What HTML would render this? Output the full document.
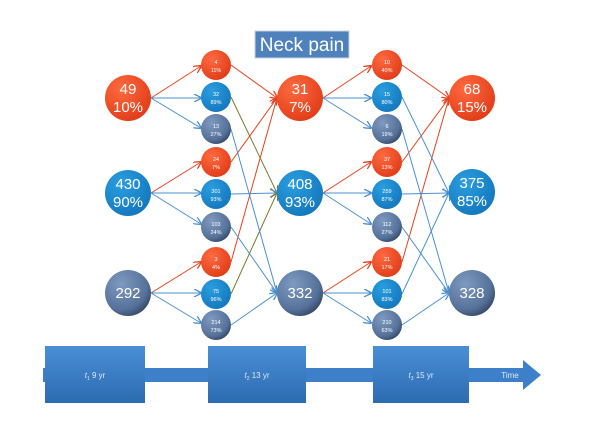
<!DOCTYPE html>
<html><head><meta charset="utf-8"><style>html,body{margin:0;padding:0;background:#fff}svg{display:block}</style></head>
<body>
<svg width="600" height="424" viewBox="0 0 600 424" xmlns="http://www.w3.org/2000/svg" font-family="Liberation Sans, sans-serif">
<defs>
<radialGradient id="gr" cx="35%" cy="30%" r="75%"><stop offset="0" stop-color="#ff6a40"/><stop offset="1" stop-color="#e03c18"/></radialGradient>
<radialGradient id="gb" cx="35%" cy="30%" r="75%"><stop offset="0" stop-color="#2a9ee0"/><stop offset="1" stop-color="#1477bd"/></radialGradient>
<radialGradient id="gg" cx="35%" cy="30%" r="80%"><stop offset="0" stop-color="#7f9ac0"/><stop offset="0.7" stop-color="#56729a"/><stop offset="1" stop-color="#2e3f5c"/></radialGradient>
<linearGradient id="box" x1="0" y1="0" x2="0" y2="1"><stop offset="0" stop-color="#4a8fd6"/><stop offset="1" stop-color="#2c6bb0"/></linearGradient>
<marker id="ar" markerWidth="8" markerHeight="8" refX="7" refY="4" orient="auto" markerUnits="userSpaceOnUse"><path d="M0,0 L8,4 L0,8" fill="none" stroke="#e8401c" stroke-width="1.3"/></marker>
<marker id="ab" markerWidth="8" markerHeight="8" refX="7" refY="4" orient="auto" markerUnits="userSpaceOnUse"><path d="M0,0 L8,4 L0,8" fill="none" stroke="#4a90d0" stroke-width="1.3"/></marker>
<marker id="ao" markerWidth="8" markerHeight="8" refX="7" refY="4" orient="auto" markerUnits="userSpaceOnUse"><path d="M0,0 L8,4 L0,8" fill="none" stroke="#7a7a30" stroke-width="1.3"/></marker>
</defs>

<!-- title -->
<rect x="255" y="31" width="94" height="27" fill="#4f81bd" stroke="#c8d4e4" stroke-width="1"/>
<text x="302" y="51" font-size="19" fill="#fff" text-anchor="middle">Neck pain</text>

<g stroke-width="1">
<!-- col1 big -> small -->
<line x1="151" y1="98" x2="201" y2="66" stroke="#e8401c" marker-end="url(#ar)"/>
<line x1="151" y1="98" x2="201" y2="98" stroke="#4a90d0" marker-end="url(#ab)"/>
<line x1="151" y1="98" x2="201" y2="128" stroke="#4a90d0" marker-end="url(#ab)"/>
<line x1="151" y1="193" x2="201" y2="162" stroke="#e8401c" marker-end="url(#ar)"/>
<line x1="151" y1="193" x2="201" y2="193" stroke="#4a90d0" marker-end="url(#ab)"/>
<line x1="151" y1="193" x2="201" y2="224" stroke="#4a90d0" marker-end="url(#ab)"/>
<line x1="151" y1="293" x2="201" y2="262" stroke="#e8401c" marker-end="url(#ar)"/>
<line x1="151" y1="293" x2="201" y2="293" stroke="#4a90d0" marker-end="url(#ab)"/>
<line x1="151" y1="293" x2="201" y2="323" stroke="#4a90d0" marker-end="url(#ab)"/>
<!-- col1 small -> col2 big -->
<line x1="231" y1="65" x2="277" y2="98" stroke="#e8401c" marker-end="url(#ar)"/>
<line x1="231" y1="162" x2="277" y2="98" stroke="#e8401c" marker-end="url(#ar)"/>
<line x1="231" y1="262" x2="277" y2="98" stroke="#e8401c" marker-end="url(#ar)"/>
<line x1="231" y1="97" x2="277" y2="193" stroke="#7a7a30" marker-end="url(#ao)"/>
<line x1="231" y1="194" x2="277" y2="193" stroke="#4a90d0" marker-end="url(#ab)"/>
<line x1="231" y1="294" x2="277" y2="193" stroke="#7a7a30" marker-end="url(#ao)"/>
<line x1="231" y1="129" x2="277" y2="293" stroke="#4a90d0" marker-end="url(#ab)"/>
<line x1="231" y1="227" x2="277" y2="293" stroke="#4a90d0" marker-end="url(#ab)"/>
<line x1="231" y1="325" x2="277" y2="293" stroke="#4a90d0" marker-end="url(#ab)"/>
<!-- col2 big -> col3 small -->
<line x1="323" y1="98" x2="371" y2="66" stroke="#e8401c" marker-end="url(#ar)"/>
<line x1="323" y1="98" x2="371" y2="98" stroke="#4a90d0" marker-end="url(#ab)"/>
<line x1="323" y1="98" x2="371" y2="128" stroke="#4a90d0" marker-end="url(#ab)"/>
<line x1="323" y1="193" x2="371" y2="162" stroke="#e8401c" marker-end="url(#ar)"/>
<line x1="323" y1="193" x2="371" y2="193" stroke="#4a90d0" marker-end="url(#ab)"/>
<line x1="323" y1="193" x2="371" y2="224" stroke="#4a90d0" marker-end="url(#ab)"/>
<line x1="323" y1="293" x2="371" y2="262" stroke="#e8401c" marker-end="url(#ar)"/>
<line x1="323" y1="293" x2="371" y2="293" stroke="#4a90d0" marker-end="url(#ab)"/>
<line x1="323" y1="293" x2="371" y2="323" stroke="#4a90d0" marker-end="url(#ab)"/>
<!-- col3 small -> col4 big -->
<line x1="402" y1="65" x2="449" y2="98" stroke="#e8401c" marker-end="url(#ar)"/>
<line x1="402" y1="162" x2="449" y2="98" stroke="#e8401c" marker-end="url(#ar)"/>
<line x1="402" y1="262" x2="449" y2="98" stroke="#e8401c" marker-end="url(#ar)"/>
<line x1="402" y1="97" x2="449" y2="193" stroke="#4a90d0" marker-end="url(#ab)"/>
<line x1="402" y1="194" x2="449" y2="193" stroke="#4a90d0" marker-end="url(#ab)"/>
<line x1="402" y1="294" x2="449" y2="193" stroke="#4a90d0" marker-end="url(#ab)"/>
<line x1="402" y1="129" x2="449" y2="293" stroke="#4a90d0" marker-end="url(#ab)"/>
<line x1="402" y1="227" x2="449" y2="293" stroke="#4a90d0" marker-end="url(#ab)"/>
<line x1="402" y1="325" x2="449" y2="293" stroke="#4a90d0" marker-end="url(#ab)"/>
</g>

<!-- big circles -->
<g fill="#fff" text-anchor="middle" font-size="15">
<circle cx="128" cy="98" r="23" fill="url(#gr)"/><text x="128" y="94">49</text><text x="128" y="112">10%</text>
<circle cx="128" cy="193" r="23" fill="url(#gb)"/><text x="128" y="189">430</text><text x="128" y="207">90%</text>
<circle cx="128" cy="293" r="23" fill="url(#gg)"/><text x="128" y="298">292</text>
<circle cx="300" cy="98" r="23" fill="url(#gr)"/><text x="300" y="94">31</text><text x="300" y="112">7%</text>
<circle cx="300" cy="193" r="23" fill="url(#gb)"/><text x="300" y="189">408</text><text x="300" y="207">93%</text>
<circle cx="300" cy="293" r="23" fill="url(#gg)"/><text x="300" y="298">332</text>
<circle cx="472" cy="98" r="23" fill="url(#gr)"/><text x="472" y="94">68</text><text x="472" y="112">15%</text>
<circle cx="472" cy="192" r="23" fill="url(#gb)"/><text x="472" y="188">375</text><text x="472" y="206">85%</text>
<circle cx="472" cy="293" r="23" fill="url(#gg)"/><text x="472" y="298">328</text>
</g>

<!-- small circles -->
<g fill="#fff" text-anchor="middle" font-size="5.5">
<circle cx="216" cy="65" r="15" fill="url(#gr)"/><text x="216" y="64">4</text><text x="216" y="72">11%</text>
<circle cx="216" cy="97" r="15" fill="url(#gb)"/><text x="216" y="96">32</text><text x="216" y="104">89%</text>
<circle cx="216" cy="129" r="15" fill="url(#gg)"/><text x="216" y="128">13</text><text x="216" y="136">27%</text>
<circle cx="216" cy="162" r="15" fill="url(#gr)"/><text x="216" y="161">24</text><text x="216" y="169">7%</text>
<circle cx="216" cy="194" r="15" fill="url(#gb)"/><text x="216" y="193">301</text><text x="216" y="201">93%</text>
<circle cx="216" cy="227" r="15" fill="url(#gg)"/><text x="216" y="226">103</text><text x="216" y="234">24%</text>
<circle cx="216" cy="262" r="15" fill="url(#gr)"/><text x="216" y="261">3</text><text x="216" y="269">4%</text>
<circle cx="216" cy="294" r="15" fill="url(#gb)"/><text x="216" y="293">75</text><text x="216" y="301">96%</text>
<circle cx="216" cy="325" r="15" fill="url(#gg)"/><text x="216" y="324">214</text><text x="216" y="332">73%</text>

<circle cx="387" cy="65" r="15" fill="url(#gr)"/><text x="387" y="64">10</text><text x="387" y="72">40%</text>
<circle cx="387" cy="97" r="15" fill="url(#gb)"/><text x="387" y="96">15</text><text x="387" y="104">80%</text>
<circle cx="387" cy="129" r="15" fill="url(#gg)"/><text x="387" y="128">6</text><text x="387" y="136">19%</text>
<circle cx="387" cy="162" r="15" fill="url(#gr)"/><text x="387" y="161">37</text><text x="387" y="169">13%</text>
<circle cx="387" cy="194" r="15" fill="url(#gb)"/><text x="387" y="193">259</text><text x="387" y="201">87%</text>
<circle cx="387" cy="227" r="15" fill="url(#gg)"/><text x="387" y="226">112</text><text x="387" y="234">27%</text>
<circle cx="387" cy="262" r="15" fill="url(#gr)"/><text x="387" y="261">21</text><text x="387" y="269">17%</text>
<circle cx="387" cy="294" r="15" fill="url(#gb)"/><text x="387" y="293">101</text><text x="387" y="301">83%</text>
<circle cx="387" cy="325" r="15" fill="url(#gg)"/><text x="387" y="324">210</text><text x="387" y="332">63%</text>
</g>

<!-- timeline -->
<path d="M43,368 L523,368 L523,360 L541,375 L523,390 L523,382 L43,382 Z" fill="#3d7fc8"/>
<rect x="45" y="346" width="100" height="57" fill="url(#box)"/>
<rect x="208" y="346" width="98" height="57" fill="url(#box)"/>
<rect x="373" y="346" width="96" height="57" fill="url(#box)"/>
<g fill="#dfe9f6" font-size="8" text-anchor="middle">
<text x="95" y="378"><tspan font-style="italic">t</tspan><tspan font-size="5" dy="2">1</tspan><tspan dy="-2"> 9 yr</tspan></text>
<text x="257" y="378"><tspan font-style="italic">t</tspan><tspan font-size="5" dy="2">2</tspan><tspan dy="-2"> 13 yr</tspan></text>
<text x="421" y="378"><tspan font-style="italic">t</tspan><tspan font-size="5" dy="2">3</tspan><tspan dy="-2"> 15 yr</tspan></text>
<text x="510" y="378">Time</text>
</g>
</svg>
</body></html>
